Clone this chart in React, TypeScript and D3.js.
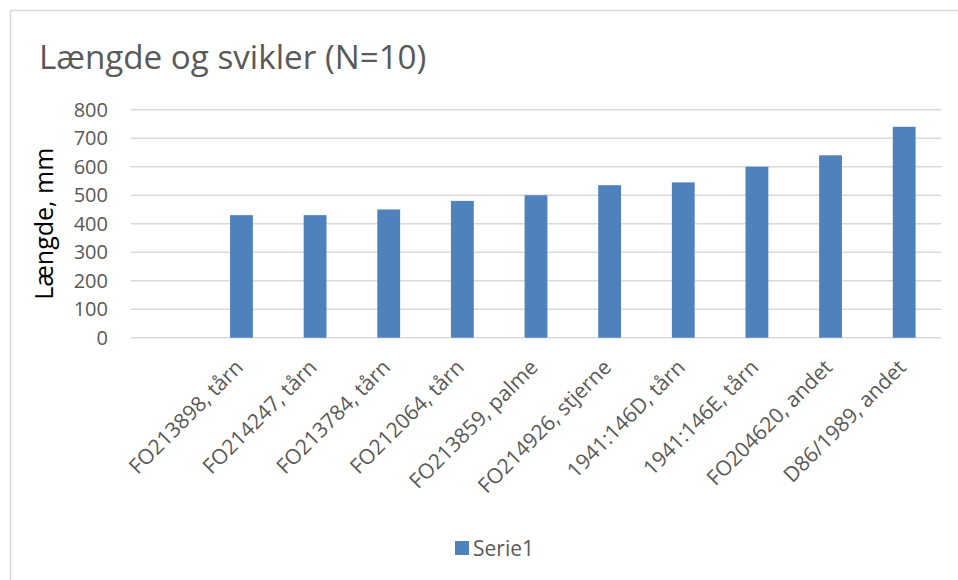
import React from "react";
import * as d3 from "d3";

const categories: string[] = [
  "",
  "FO213898, tårn",
  "FO214247, tårn",
  "FO213784, tårn",
  "FO212064, tårn",
  "FO213859, palme",
  "FO214926, stjerne",
  "1941:146D, tårn",
  "1941:146E, tårn",
  "FO204620, andet",
  "D86/1989, andet",
];
const values: (number | null)[] = [null, 430, 430, 450, 480, 500, 535, 545, 600, 640, 740];
const yTicks: number[] = [0, 100, 200, 300, 400, 500, 600, 700, 800];
const title = "Længde og svikler (N=10)";
const yLabel = "Længde, mm";
const seriesName = "Serie1";

const W = 958;
const H = 580;
const left = 131;
const right = 941;
const top = 109.7;
const bottom = 337.7;
const FONT = "'Open Sans', Lato, sans-serif";
const TEXT = "#595959";
const BAR = "#4f81bd";
const GRID = "#d9d9d9";

export default function App() {
  const x = d3
    .scaleBand<string>()
    .domain(categories.map((c, i) => String(i)))
    .range([left, right])
    .paddingInner(0.69)
    .paddingOuter(0.345);
  const y = d3.scaleLinear().domain([0, 800]).range([bottom, top]);

  return (
    <svg
      width={W}
      height={H}
      style={{ position: "absolute", left: 0, top: 0, background: "#fff" }}
      fontFamily={FONT}
    >
      <rect x={0} y={0} width={W} height={H} fill="#fff" />
      <line x1={10.5} y1={10.5} x2={W} y2={10.5} stroke={GRID} strokeWidth={1.5} />
      <line x1={10.5} y1={10.5} x2={10.5} y2={H} stroke={GRID} strokeWidth={1.5} />
      <text x={39} y={69} fontSize={33.2} fill={TEXT}>
        {title}
      </text>
      {yTicks.map((t) => (
        <g key={t}>
          <line x1={left} x2={right} y1={y(t)} y2={y(t)} stroke={GRID} strokeWidth={1.5} />
          <text x={108} y={y(t)} dy="0.36em" textAnchor="end" fontSize={20} fill={TEXT}>
            {t}
          </text>
        </g>
      ))}
      <text
        transform={`translate(53,${(top + bottom) / 2}) rotate(-90)`}
        textAnchor="middle"
        fontSize={25}
        fill="#000"
      >
        {yLabel}
      </text>
      {values.map((v, i) =>
        v == null ? null : (
          <rect
            key={i}
            x={x(String(i))!}
            y={y(v)}
            width={x.bandwidth()}
            height={y(0) - y(v)}
            fill={BAR}
          />
        )
      )}
      {categories.map((c, i) => {
        const cx = x(String(i))! + x.bandwidth() / 2;
        return (
          <text
            key={i}
            transform={`translate(${cx + 3},${bottom + 31}) rotate(-45)`}
            textAnchor="end"
            fontSize={21}
            fill={TEXT}
          >
            {c}
          </text>
        );
      })}
      <rect x={455} y={541} width={14} height={14} fill={BAR} />
      <text x={473} y={556} fontSize={21} fill={TEXT}>
        {seriesName}
      </text>
    </svg>
  );
}
